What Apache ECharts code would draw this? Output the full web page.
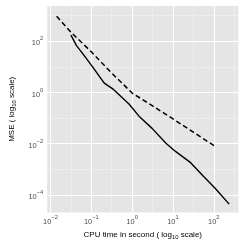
<!DOCTYPE html>
<html>
<head>
<meta charset="utf-8">
<script src="https://cdn.jsdelivr.net/npm/echarts@6/dist/echarts.min.js"></script>
<style>html,body{margin:0;padding:0;background:#fff}#c{width:245px;height:245px}</style>
</head>
<body>
<div id="c"></div>
<script>
// CPU time (s) and MSE (raw values, plotted on log10 scale)
const solidTime = [0.0317, 0.0434, 0.0615, 0.0871, 0.113, 0.207, 0.349, 0.836, 1.54, 3.08, 6.73, 11.3, 27.1, 54.2, 109, 238];
const solidMse  = [174, 67.6, 33.1, 15.8, 8.91, 2.34, 1.32, 0.355, 0.110, 0.0398, 0.0105, 0.00513, 0.00182, 0.000562, 0.000178, 0.0000437];
const dashedTime = [0.0141, 0.0316, 0.1, 0.316, 1.0, 3.16, 10, 31.6, 105];
const dashedMse  = [944, 229, 38.9, 5.75, 0.955, 0.302, 0.0933, 0.0282, 0.00813];
const xTickExp = [-2, -1, 0, 1, 2];
const yTickExp = [-4, -2, 0, 2];
const xMinorExp = [-1.5, -0.5, 0.5, 1.5, 2.5];
const yMinorExp = [-3, -1, 1, 3];
const xTitle = 'CPU time in second ( log{sub|10} scale)';
const yTitle = 'MSE ( log{sub|10} scale)';

const FONT = '"Liberation Sans", Arial, Helvetica, sans-serif';
const toXY = (t, m) => t.map((v, i) => [Math.log10(v), Math.log10(m[i])]);
const sup = e => '{b|10}{s|' + String(e).replace('-', '\u2212') + '}';
const tickRich = {
  b: {fontSize: 7.4, fontFamily: FONT, color: '#4d4d4d', lineHeight: 11, verticalAlign: 'bottom'},
  s: {fontSize: 5.8, fontFamily: FONT, color: '#4d4d4d', lineHeight: 6, verticalAlign: 'top'}
};
const titleRich = {
  t: {fontSize: 8, fontFamily: FONT, color: '#000', lineHeight: 11, verticalAlign: 'middle'},
  sub: {fontSize: 5.8, fontFamily: FONT, color: '#000', lineHeight: 5, verticalAlign: 'bottom'}
};
const wrapTitle = s => '{t|' + s.replace('{sub|10}', '}{sub|10}{t|') + '}';

const gridLines = [];
xMinorExp.forEach(v => gridLines.push({xAxis: v, lineStyle: {color: '#f2f2f2', width: 0.6, type: 'solid'}}));
yMinorExp.forEach(v => gridLines.push({yAxis: v, lineStyle: {color: '#f2f2f2', width: 0.6, type: 'solid'}}));
xTickExp.forEach(v => gridLines.push({xAxis: v, lineStyle: {color: '#ffffff', width: 1.1, type: 'solid'}}));
yTickExp.forEach(v => gridLines.push({yAxis: v, lineStyle: {color: '#ffffff', width: 1.1, type: 'solid'}}));

const chart = echarts.init(document.getElementById('c'), null, {renderer: 'canvas'});
chart.setOption({
  animation: false,
  grid: {left: 31.5, right: 6.7, top: 6, bottom: 27, show: true, backgroundColor: '#e5e5e5', borderWidth: 0},
  xAxis: {
    type: 'value', min: -2.08, max: 2.60,
    axisLine: {show: false},
    splitLine: {show: false},
    axisTick: {show: true, customValues: xTickExp, length: 2, lineStyle: {color: '#7f7f7f', width: 0.8}},
    axisLabel: {customValues: xTickExp, margin: 2, formatter: v => sup(v), rich: tickRich},
    name: wrapTitle(xTitle), nameLocation: 'middle', nameGap: 11,
    nameTextStyle: {rich: titleRich}
  },
  yAxis: {
    type: 'value', min: -4.69, max: 3.38,
    axisLine: {show: false},
    splitLine: {show: false},
    axisTick: {show: true, customValues: yTickExp, length: 2, lineStyle: {color: '#7f7f7f', width: 0.8}},
    axisLabel: {customValues: yTickExp, margin: 4, formatter: v => sup(v), rich: tickRich},
    name: wrapTitle(yTitle), nameLocation: 'middle', nameGap: 22, nameRotate: 90,
    nameTextStyle: {rich: titleRich}
  },
  series: [
    {
      type: 'line', data: [], z: 1, silent: true,
      markLine: {silent: true, symbol: 'none', z: 1, label: {show: false}, animation: false, data: gridLines}
    },
    {
      type: 'line', data: toXY(dashedTime, dashedMse), showSymbol: false, z: 3,
      lineStyle: {color: '#000', width: 1.5, type: [5, 3]}
    },
    {
      type: 'line', data: toXY(solidTime, solidMse), showSymbol: false, z: 3,
      lineStyle: {color: '#000', width: 1.4}
    }
  ]
});
</script>
</body>
</html>
